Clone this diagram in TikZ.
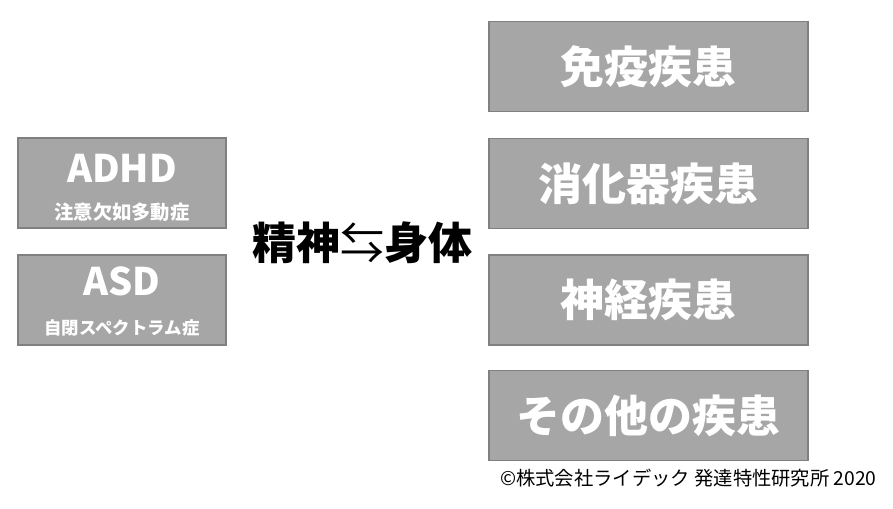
\documentclass[tikz,border=0pt]{standalone}
\usepackage{fontspec}
\newfontfamily\cjk{Noto Sans CJK JP}
\newfontfamily\arrowfont{Noto Sans CJK JP}
\begin{document}
\begin{tikzpicture}[x=1pt,y=-1pt,line width=1.5pt]
\tikzset{box/.style={draw=black!50,fill=black!35,minimum height=90pt,inner sep=0pt}, wtext/.style={text=white,font=\cjk\bfseries,inner sep=0pt}}
\useasboundingbox (0,0) rectangle (893,508);
% left boxes
\node[box,minimum width=208pt] (adhd) at (122,183) {};
\node[wtext,font=\cjk\bfseries\fontsize{38}{38}\selectfont] (adhdname) at ([yshift=14.5pt]adhd.center) {ADHD};
\node[wtext,font=\cjk\bfseries\fontsize{19.3}{19.3}\selectfont] (adhdsub) at ([yshift=-29pt]adhd.center) {注意欠如多動症};
\node[box,minimum width=208pt] (asd) at (122,300) {};
\node[wtext,font=\cjk\bfseries\fontsize{38}{38}\selectfont] (asdname) at ([yshift=18.5pt]asd.center) {ASD};
\node[wtext,font=\cjk\bfseries\fontsize{17.4}{17.4}\selectfont] (asdsub) at ([yshift=-28pt]asd.center) {自閉スペクトラム症};
% centre
\node[inner sep=0pt,font=\cjk\bfseries\fontsize{44}{44}\selectfont] (mindbody) at (362.5,243) {精神{\arrowfont\mdseries ⇆}身体};
% right boxes
\node[box,minimum width=319pt,wtext,font=\cjk\bfseries\fontsize{44}{44}\selectfont] (immune) at (648.5,66.5) {免疫疾患};
\node[box,minimum width=319pt,wtext,font=\cjk\bfseries\fontsize{44}{44}\selectfont] (digest) at (648.5,183.5) {消化器疾患};
\node[box,minimum width=319pt,wtext,font=\cjk\bfseries\fontsize{44}{44}\selectfont] (nerve) at (648.5,300) {神経疾患};
\node[box,minimum width=319pt,wtext,font=\cjk\bfseries\fontsize{44}{44}\selectfont] (other) at (648.5,415.5) {その他の疾患};
% credit
\node[inner sep=0pt,font=\cjk\fontsize{19.3}{19.3}\selectfont] (credit) at (688.5,478) {©株式会社ライデック 発達特性研究所 2020};
\end{tikzpicture}
\end{document}
